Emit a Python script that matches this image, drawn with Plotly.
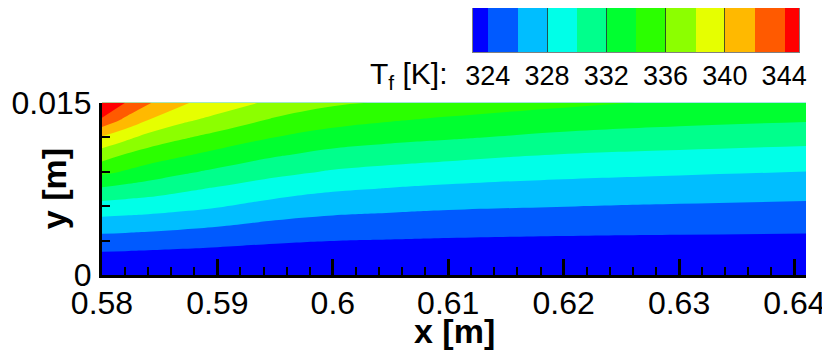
import plotly.graph_objects as go

# Tecplot-like banded palette, one colour per 2 K band (below 324 ... above 344)
BAND_COLORS = ['#0000FF', '#005AFF', '#00BEFF', '#00FFE8', '#00FF8C', '#00FF30',
               '#2BFF00', '#8CFF00', '#E6FF00', '#FFB900', '#FF5A00', '#FF0000']
LEVEL_START, LEVEL_END, LEVEL_STEP = 324, 344, 2

# colour legend cells (band centres) and its labels
LEGEND_CENTERS = [323, 325, 327, 329, 331, 333, 335, 337, 339, 341, 343, 345]
LEGEND_TICKS = [324, 328, 332, 336, 340, 344]
LEGEND_LINES = [328, 332, 336, 340]

# sample stations of the temperature field (x in m, y in m)
X_STATIONS = [0.58, 0.582, 0.584, 0.587, 0.59, 0.595, 0.60, 0.605, 0.61, 0.62, 0.63, 0.641]
Y_STATIONS = [0.0, 0.0015, 0.003, 0.0045, 0.006, 0.0075, 0.009, 0.0105, 0.012, 0.0135, 0.015]

# T_f [K], one list per x station (bottom -> top)
T_COLUMNS = [
    [321.5, 323.35, 325.21, 327.20, 329.26, 331.73, 334.56, 336.98, 339.81, 343.47, 347.5],
    [321.5, 323.29, 325.13, 327.08, 329.09, 331.34, 333.83, 335.93, 338.57, 341.58, 344.0],
    [321.5, 323.22, 325.03, 326.95, 328.92, 330.98, 333.14, 335.13, 337.33, 340.00, 342.2],
    [321.5, 323.12, 324.81, 326.67, 328.57, 330.33, 332.32, 334.26, 336.24, 338.40, 340.2],
    [321.5, 323.02, 324.61, 326.35, 328.16, 329.78, 331.63, 333.41, 335.33, 337.35, 339.2],
    [321.5, 322.86, 324.25, 325.72, 327.30, 328.92, 330.55, 332.25, 334.00, 335.70, 337.5],
    [321.6, 322.80, 324.02, 325.36, 326.75, 328.25, 329.83, 331.42, 333.07, 334.75, 336.3],
    [321.6, 322.76, 323.92, 325.20, 326.50, 327.90, 329.40, 330.97, 332.57, 334.15, 335.8],
    [321.6, 322.71, 323.82, 325.03, 326.29, 327.62, 329.06, 330.61, 332.23, 333.70, 335.2],
    [321.6, 322.64, 323.69, 324.84, 326.04, 327.27, 328.56, 329.95, 331.53, 332.98, 334.4],
    [321.6, 322.61, 323.63, 324.71, 325.84, 327.03, 328.27, 329.61, 331.09, 332.50, 333.75],
    [321.6, 322.59, 323.58, 324.61, 325.66, 326.81, 327.99, 329.32, 330.70, 332.16, 333.55],
]

X_TICKS = [0.58, 0.59, 0.60, 0.61, 0.62, 0.63, 0.64]
X_TICK_LABELS = ['0.58', '0.59', '0.6', '0.61', '0.62', '0.63', '0.64']
Y_TICKS = [0.0, 0.015]
Y_TICK_LABELS = ['0', '0.015']

FONT = 'Liberation Sans, Arial, sans-serif'

# step colorscale over [323, 345]: each band gets one flat colour
cmin, cmax = LEGEND_CENTERS[0], LEGEND_CENTERS[-1]
span = cmax - cmin
colorscale = []
for k, c in enumerate(BAND_COLORS):
    lo = max(0.0, (LEGEND_CENTERS[k] - LEVEL_STEP / 2 - cmin) / span)
    hi = min(1.0, (LEGEND_CENTERS[k] + LEVEL_STEP / 2 - cmin) / span)
    colorscale += [[lo, c], [hi, c]]

z = [list(row) for row in zip(*T_COLUMNS)]

fig = go.Figure()

fig.add_trace(go.Contour(
    x=X_STATIONS, y=Y_STATIONS, z=z,
    colorscale=colorscale,
    contours=dict(start=LEVEL_START, end=LEVEL_END, size=LEVEL_STEP, coloring='fill'),
    line=dict(width=0, smoothing=1.3),
    showscale=False, hoverinfo='skip',
))

# the legend bar drawn as a one-row heatmap on its own axes
fig.add_trace(go.Heatmap(
    x=LEGEND_CENTERS, y=[0], z=[LEGEND_CENTERS],
    colorscale=colorscale, zmin=cmin, zmax=cmax,
    showscale=False, hoverinfo='skip',
    xaxis='x2', yaxis='y2',
))

axis_font = dict(family=FONT, size=32, color='black')

# the page body adds an 8 px offset, so margins are shifted by that amount
fig.update_layout(
    width=830, height=361,
    margin=dict(l=94, r=32, t=0, b=93.5, autoexpand=False),
    paper_bgcolor='white', plot_bgcolor='white',
    showlegend=False,
    xaxis=dict(
        domain=[0, 1], range=[0.58, 0.641], automargin=False,
        tickmode='array', tickvals=X_TICKS, ticktext=X_TICK_LABELS,
        ticks='inside', ticklen=16, tickwidth=3, tickcolor='black',
        minor=dict(ticks='inside', ticklen=8, tickwidth=2, tickcolor='black',
                   tick0=0.58, dtick=0.002),
        showline=True, linewidth=3, linecolor='black',
        showgrid=False, zeroline=False,
        tickfont=axis_font, ticklabelstandoff=-2,
    ),
    yaxis=dict(
        domain=[0, 0.6449], range=[0, 0.015], automargin=False,
        tickmode='array', tickvals=Y_TICKS, ticktext=Y_TICK_LABELS,
        ticks='inside', ticklen=16, tickwidth=3, tickcolor='black',
        minor=dict(ticks='inside', ticklen=8, tickwidth=2, tickcolor='black',
                   tick0=0, dtick=0.003),
        showline=True, linewidth=3, linecolor='black',
        showgrid=False, zeroline=False,
        tickfont=axis_font, ticklabelstandoff=1,
    ),
    xaxis2=dict(
        domain=[0.527, 0.990], range=[323, 345], anchor='y2', automargin=False,
        tickmode='array', tickvals=LEGEND_TICKS, ticks='',
        minor=dict(ticks='inside', ticklen=44, tickwidth=1, tickcolor='rgba(40,40,40,0.8)',
                   tickmode='array', tickvals=LEGEND_LINES),
        showline=True, mirror=True, linewidth=1, linecolor='#808080',
        showgrid=False, zeroline=False,
        tickfont=dict(family=FONT, size=27, color='black'),
    ),
    yaxis2=dict(
        domain=[0.8355, 1.0], range=[-0.5, 0.5], anchor='x2', automargin=False,
        showticklabels=False, ticks='',
        showline=True, mirror=True, linewidth=1, linecolor='#808080',
        showgrid=False, zeroline=False,
    ),
    annotations=[
        dict(text='<b>x [m]</b>', xref='paper', yref='paper', x=0.5, y=-0.21,
             xanchor='center', yanchor='middle', showarrow=False,
             font=dict(family=FONT, size=34, color='black')),
        dict(text='<b>y [m]</b>', xref='paper', yref='paper', x=-0.0689, y=0.3234,
             xanchor='center', yanchor='middle', textangle=-90, showarrow=False,
             font=dict(family=FONT, size=34, color='black')),
        dict(text='T<sub>f</sub> [K]:', xref='paper', yref='paper', x=0.494, y=0.7458,
             xanchor='right', yanchor='middle', showarrow=False,
             font=dict(family=FONT, size=30, color='black')),
    ],
)

fig.write_html("out.html")
